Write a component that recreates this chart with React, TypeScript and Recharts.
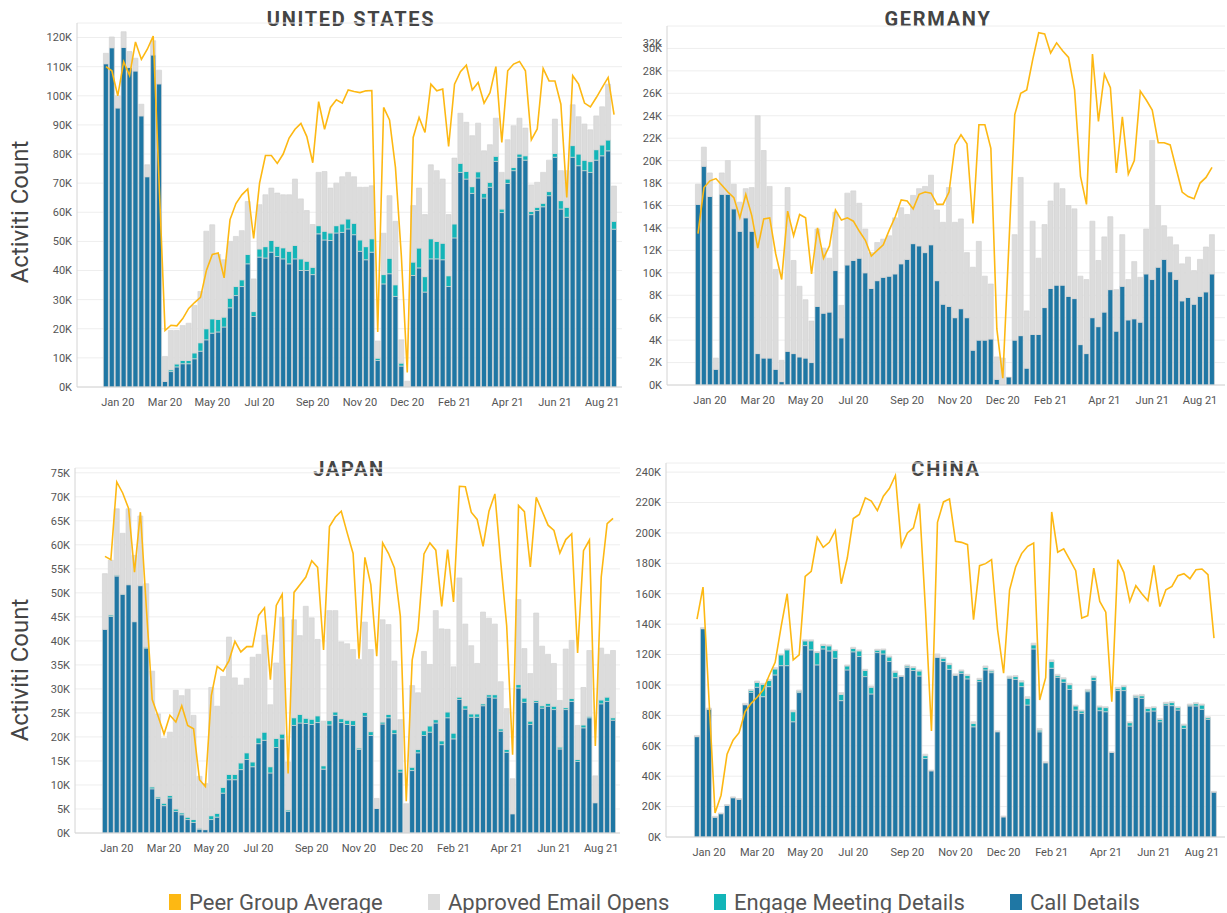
import React from 'react'
import { ComposedChart, Bar, Line, XAxis, YAxis, CartesianGrid } from 'recharts'

const COLORS = {
  call: '#1f77a4',
  engage: '#13b5b8',
  email: '#dcdcdc',
  peer: '#fdb813',
  text: '#555555',
  title: '#444444',
  grid: '#eeeeee',
  axis: '#d4d4d4',
}

// x axis: weekly buckets, labelled every ~2 months
const tickWeeks = [2, 10, 18, 26, 35, 43, 51, 59, 68, 76, 84]
const tickLabels = ['Jan 20', 'Mar 20', 'May 20', 'Jul 20', 'Sep 20', 'Nov 20', 'Dec 20', 'Feb 21', 'Apr 21', 'Jun 21', 'Aug 21']

// values in thousands
const usCall = [111, 116.5, 95.8, 116.6, 109.7, 108.5, 93.1, 72.2, 114, 104.1, 1.9, 5.3, 6.9, 8, 8, 9.7, 12.3, 16.2, 18.5, 18.9, 20.6, 27.2, 31.4, 34.5, 42.3, 24.2, 44.6, 44.3, 46.3, 44.8, 44, 42.3, 44, 40, 40, 38.6, 52.6, 50.5, 50.3, 52.9, 53.1, 54.3, 52.3, 46.6, 43.7, 46.3, 9.1, 35.4, 38.9, 31.1, 7.2, 0, 38.3, 40.9, 32.6, 44, 44, 43.7, 34.5, 51.2, 73.7, 71.4, 66.5, 71.8, 64.9, 68.6, 77.5, 59.9, 69.9, 74.3, 78.9, 77.9, 59.2, 60.6, 61.9, 65.7, 78.9, 61.1, 58.3, 78.9, 76, 74.3, 73.7, 77.9, 79.4, 81.1, 54.2]
const usEngage = [0, 0, 0, 0, 0, 0, 0, 0, 0, 0, 0, 0.6, 1, 1.1, 1.1, 2, 2.9, 3.8, 4.9, 4.3, 3.4, 3.3, 3.1, 2.3, 3.2, 1.7, 2.8, 3.9, 4, 3.5, 3.8, 4.3, 4.6, 4, 3.2, 2.5, 2.8, 3, 2.6, 2.5, 2.9, 3.4, 3.9, 3.9, 4.5, 4.6, 0.8, 3.2, 5.3, 4, 1, 0, 4.6, 6.8, 5.3, 6.9, 6, 5.7, 3.7, 4.8, 3.1, 2.6, 2.3, 2.1, 1.6, 1.7, 1.7, 1.2, 1.5, 1.1, 1.1, 1.5, 1.1, 1.1, 1.2, 1.4, 1.3, 2.9, 3.4, 4, 4, 3.6, 3.7, 3.6, 3.7, 3.7, 2.7]
const usEmail = [3.6, 3.7, 4.2, 5.4, 5.5, 4.4, 4, 4.1, 4.9, 4.7, 8.6, 13.5, 11.5, 12, 12.8, 16.3, 17.6, 33.5, 32.3, 22.3, 19.7, 19.5, 17.2, 16.9, 18.2, 11.2, 15.2, 17.8, 18, 18.3, 18.2, 19.4, 22.8, 20.6, 17.4, 14.7, 18.3, 20.5, 15.4, 14.6, 16.2, 16, 16, 18.1, 20.4, 18.2, 5.9, 14.2, 21.5, 21.8, 8, 2, 19.4, 20.6, 21.3, 25.4, 24.3, 22, 21, 22.6, 17.2, 16.9, 17.5, 16.7, 14.6, 12.9, 13.1, 12.6, 13.5, 14.3, 12.3, 9.5, 9.1, 8.6, 10.6, 10.8, 11.8, 10.3, 12.6, 14, 12.8, 12.4, 10.9, 11.6, 13.1, 19.2, 12.1]
const usPeer = [110, 108.6, 100, 111.7, 107, 118.5, 112.5, 116, 120.5, 70, 19.4, 21.2, 21, 23.5, 27, 29, 30.8, 40, 45.5, 46, 37.5, 57.5, 63, 66, 68, 51, 70, 79.5, 79.5, 76.8, 80, 85.5, 88.5, 90.5, 86, 77, 98, 88.5, 96, 98.6, 97.5, 102, 101.5, 101.1, 101.7, 101.8, 18.9, 96, 91.7, 75.4, 45, 5, 85.7, 92.6, 87.4, 104, 101.7, 102.3, 82.6, 104, 108.3, 110.5, 102, 104.6, 97.5, 101.1, 110, 84, 108.6, 110.9, 111.8, 108.6, 84.9, 88.6, 109.4, 105.1, 105.1, 97.1, 65.1, 106.9, 104, 97.5, 96.2, 99.4, 102.9, 106.3, 93.5]

const deCall = [16.1, 19.5, 16.8, 1.4, 17, 17, 15.7, 13.7, 14.9, 13.7, 2.8, 2.4, 2.4, 1.4, 0.3, 3, 2.8, 2.5, 2.4, 2, 7, 6.4, 6.5, 10.2, 4.2, 10.7, 11.1, 11.3, 10, 8.6, 9.3, 9.6, 9.7, 9.9, 10.8, 11.2, 12.6, 12.4, 11.8, 12.5, 9.3, 7.2, 7, 6, 6.8, 6, 3.1, 4, 4, 4.1, 0.5, 0, 0.7, 4, 4.4, 1.5, 4.5, 4.5, 6.9, 8.6, 8.9, 8.9, 7.9, 7.7, 3.6, 2.8, 6, 5.2, 6.5, 8.5, 4.8, 8.8, 5.8, 5.9, 5.6, 9.9, 9.4, 10.5, 11.2, 10.1, 9.4, 7.5, 7.8, 7.2, 7.9, 8.3, 9.9]
const deEmail = [1.8, 1.7, 2.1, 1, 1.9, 3, 2.2, 2.6, 2.6, 3.9, 21.2, 18.5, 15.3, 8.9, 1.9, 14.6, 8.3, 6.3, 5.2, 3.7, 6.9, 5.8, 4.8, 5.2, 2.9, 6.4, 6.2, 4.9, 3.9, 3.2, 3.4, 3.4, 3.6, 5, 5, 4, 4.3, 5.1, 5.9, 6.2, 6.3, 7.3, 10.6, 8.5, 8, 5.8, 7.4, 8.8, 5.7, 4.9, 2, 2.4, 0, 9.4, 14.1, 5.1, 10.1, 6.8, 7.4, 7.8, 9.1, 8.6, 8.1, 8, 6.1, 6.6, 8.6, 5.9, 6.7, 6.5, 3.7, 4.6, 3.6, 5.1, 4, 4, 12.4, 5.5, 3, 3.1, 3.1, 3.3, 3.6, 3, 3.3, 4, 3.5]
const dePeer = [13.5, 17.6, 18.2, 18.4, 17.8, 17.2, 16.7, 14.9, 17, 15.1, 12.2, 14.8, 14.9, 11.7, 9.4, 15.5, 13.3, 15.2, 14.9, 9.9, 14, 11.3, 12.4, 15.6, 14.7, 14.9, 14.6, 13.7, 12.9, 11.5, 12, 12.5, 13.8, 15, 16.5, 16.4, 15.7, 17, 17.2, 17.1, 16.1, 16.1, 17.2, 21.4, 22.3, 21.5, 14.4, 23.2, 23.2, 21.1, 5, 0.6, 12.3, 24.1, 26, 26.3, 29, 31.4, 31.3, 29.6, 30.5, 29.8, 29.2, 26.3, 18.6, 16.1, 29.5, 23.5, 27.7, 26.5, 18.9, 23.9, 18.8, 20, 26.2, 25.4, 24.5, 21.6, 21.6, 21.4, 19.3, 17.2, 16.8, 16.6, 18, 18.5, 19.4]

const jpCall = [42.4, 45.1, 53.5, 49.7, 51.7, 44, 51.5, 38.5, 9.2, 7.2, 5.7, 7.3, 4.5, 3.8, 2.8, 2.2, 0.8, 0.7, 2.8, 3.3, 8.3, 11.1, 11.1, 13.2, 15.3, 13.8, 18.6, 19.3, 12.5, 17.8, 19.6, 4.5, 22.4, 22.9, 22.8, 22.6, 23, 13.3, 22.5, 24.5, 23, 22.6, 22.4, 17.4, 24.3, 20.3, 5.1, 22.7, 24, 20.7, 12.7, 0, 13, 16.7, 20.3, 21, 22.9, 18.4, 24, 19.6, 27.8, 25.8, 24.1, 24.1, 26.5, 28.3, 28.1, 21.2, 16.8, 4, 30.2, 27.2, 22.6, 27.2, 26, 26.4, 25.7, 17.5, 25.7, 27.4, 14.9, 21.9, 24, 6.3, 26.9, 27.4, 23.5]
const jpEngage = [0, 0.3, 0.2, 0.1, 0.1, 0.1, 0.1, 0.2, 0.4, 0.3, 0.5, 0.5, 0.5, 0.4, 0.5, 0.6, 0.2, 0, 0.8, 0.8, 1.2, 1.1, 1.1, 1.4, 1.4, 1, 1.2, 1.7, 1.3, 1.9, 1, 0.3, 1.6, 1.8, 1.1, 1.1, 1.4, 0.7, 0.9, 0.7, 0.8, 0.9, 1, 0.3, 0.8, 0.8, 0, 0.4, 0.7, 0.8, 0.6, 0, 0.7, 0.7, 1, 1.3, 0.7, 0.8, 1.2, 1.2, 0.5, 0.7, 0.7, 0.7, 0.4, 0.5, 0.7, 0.5, 0.6, 0, 0.7, 0.9, 0.7, 0.4, 0.5, 0.6, 0.7, 0.4, 0.4, 0.6, 0.4, 0.6, 0.3, 0, 0.8, 0.9, 0.5]
const jpEmail = [11.6, 11.4, 13.8, 12.6, 15.7, 13.7, 14.4, 13.2, 24.1, 17.3, 13.5, 13.2, 24.7, 24.4, 26.6, 21.7, 10.8, 9.6, 26.7, 22.3, 23.1, 28.6, 20.1, 16.2, 15.5, 21.8, 17.4, 20.2, 12.9, 15.7, 24.3, 10, 20.4, 16.4, 23.3, 21.1, 15.9, 9.3, 22.9, 21.1, 16, 15.9, 14.8, 18.4, 18.8, 17.1, 2.1, 21.3, 18.7, 14.3, 10.3, 6.1, 17, 11.8, 16.5, 12.8, 22.7, 23.3, 17.2, 13.8, 24.8, 17, 14.2, 10.5, 19.1, 15.9, 14.7, 9.8, 8.5, 7.3, 17.7, 10.3, 9.9, 18.2, 12.4, 10.2, 8.9, 9.7, 12.2, 12.1, 7.1, 7.8, 13.7, 5.6, 10.8, 8.9, 14]
const jpPeer = [57.6, 56.9, 73.1, 70.8, 67.6, 54.3, 66.8, 47, 27.8, 24.3, 20.6, 24.5, 23.1, 26.5, 22.4, 21.7, 11.1, 9.7, 28.6, 34.7, 33.7, 35.9, 39.9, 37.7, 38.8, 38.8, 45.3, 46.9, 31.9, 47.4, 49.7, 12.4, 50.1, 51.7, 53.3, 56.7, 55.3, 38.1, 63.8, 65.8, 67, 62.5, 58.2, 36.3, 57.4, 51.7, 36.8, 60.4, 58.2, 55.2, 45.1, 6.6, 36, 42.4, 58.1, 60.4, 58.9, 47.2, 59, 48.1, 72.2, 72.1, 66.8, 65.3, 59.7, 67, 70.6, 56.3, 43.1, 16.3, 68.2, 66.9, 55.4, 69.9, 67, 64.1, 63, 58.3, 61.1, 62.3, 37.5, 58.8, 61, 18.1, 53.3, 64.4, 65.5]

const cnCall = [66, 137, 84, 13, 15.3, 20.8, 25.8, 24.8, 87, 95.2, 98.5, 92.3, 98.9, 106.6, 112.7, 112.7, 75.8, 95, 125.9, 123.1, 113.2, 123.7, 122.4, 117.6, 89.7, 109.9, 121.8, 118.7, 105.5, 94.1, 121.3, 120.4, 115.4, 104.8, 105.7, 111.6, 109.5, 105.9, 51.6, 43.5, 118.2, 115.4, 110.3, 106.4, 107.7, 104, 72.5, 102.2, 109.9, 108.1, 69.2, 13.2, 104.4, 103.7, 98.9, 86.8, 123.7, 69.2, 48.8, 111, 105.1, 101.8, 97.1, 83.5, 81.3, 95.6, 102.9, 83.1, 82.4, 55.6, 96.3, 96.3, 73, 91.9, 91.2, 82.4, 82.9, 75.8, 86.8, 86.4, 83.5, 71.4, 86.2, 86.2, 84, 77.4, 29.5]
const cnEngage = [0, 0, 0, 0, 0, 0, 0, 0, 0, 1.2, 3.2, 8.1, 4, 3.9, 7.1, 10.4, 6.6, 0.9, 3.1, 5.9, 8.1, 2.3, 3.3, 5, 4.1, 2.6, 2.2, 3.7, 4, 4.4, 1.6, 2.7, 3, 3.6, 0, 0.9, 1.9, 3.3, 1.9, 0, 0, 2.2, 3.1, 0.2, 1.5, 2.2, 2.2, 1.5, 1.7, 1.1, 0, 0, 0.7, 1.8, 3.1, 4.4, 2.7, 1.1, 0, 4.4, 1.1, 2.2, 3.1, 2.7, 1.6, 0.9, 2.2, 2.4, 2.7, 0, 1.3, 2.6, 2.2, 0.8, 1.7, 2.2, 2.2, 1.6, 1.1, 2, 1.6, 2.2, 0.6, 1.5, 2.8, 1.1, 0]
const cnEmail = [0.8, 0.8, 0.8, 0.6, 0.5, 0.5, 0.6, 0.5, 0.9, 0.7, 0.9, 0.7, 0.8, 0.9, 0.6, 0.6, 1.1, 0.8, 0.7, 0.7, 0.7, 0.8, 0.7, 0.5, 1.2, 0.7, 0.8, 0.7, 0.8, 0.8, 0.6, 0.6, 0.7, 0.8, 0.5, 0.7, 0.7, 0.7, 1, 0.5, 2.2, 0.6, 0.9, 0.7, 0.7, 0.8, 1.1, 0.7, 0.9, 0.7, 0.7, 0.6, 0.8, 0.7, 0.9, 1.1, 1.1, 1.1, 0.7, 1.1, 0.8, 0.8, 0.9, 0.6, 0.6, 0.6, 0.8, 0.7, 0.6, 0.4, 0.9, 0.7, 0.6, 0.7, 0.9, 0.7, 0.6, 0.6, 0.7, 0.6, 0.6, 0.7, 0.7, 0.7, 0.7, 0.6, 0.5]
const cnPeer = [143.3, 164.4, 90, 15.8, 27.5, 54.5, 63.7, 68.6, 82.4, 87.9, 91.9, 96.7, 106.2, 114.9, 138.5, 160, 116.5, 119.8, 171.4, 174.7, 197.1, 190.5, 193.8, 201.5, 166.6, 183.5, 209.5, 212.1, 223.1, 220.9, 214.7, 224.2, 229.2, 237.8, 191.2, 200, 203.3, 219.3, 150, 69.7, 207, 220.4, 222.4, 194.5, 193.8, 192.3, 142.9, 178.5, 179.8, 182.4, 136.3, 107.7, 162.6, 177.6, 186.4, 191.2, 193.4, 90.1, 104.8, 213.8, 187.3, 189.5, 182.4, 175.2, 144, 145.5, 176.9, 154.9, 147.9, 89, 182.4, 174.1, 154.9, 165.3, 160, 155.4, 178.7, 151.6, 162.6, 164.8, 171.9, 173.2, 169.9, 175.8, 176.3, 172.5, 130.8]

const usTicks = [0, 10, 20, 30, 40, 50, 60, 70, 80, 90, 100, 110, 120]
const deTicks = [0, 2, 4, 6, 8, 10, 12, 14, 16, 18, 20, 22, 24, 26, 28, 30]
const jpTicks = [0, 5, 10, 15, 20, 25, 30, 35, 40, 45, 50, 55, 60, 65, 70, 75]
const cnTicks = [0, 20, 40, 60, 80, 100, 120, 140, 160, 180, 200, 220, 240]

const FONT = 'Roboto, "Noto Sans", sans-serif'
const tickStyle = { fill: COLORS.text, fontSize: 11, fontFamily: FONT }

function buildRows(call: number[], email: number[], peer: number[], engage?: number[]) {
  return call.map((c, i) => ({
    week: i,
    call: c,
    engage: engage ? engage[i] : undefined,
    email: email[i],
    peer: peer[i],
  }))
}

// the Germany axis draws its "32K" label squeezed on top of "30K"
function GermanyTick(props: any) {
  const { x, y, payload } = props
  return (
    <g>
      {payload.value === 30 && (
        <text x={x} y={y - 5} dy="0.355em" textAnchor="end" {...tickStyle}>
          32K
        </text>
      )}
      <text x={x} y={y} dy="0.355em" textAnchor="end" {...tickStyle}>
        {`${payload.value}K`}
      </text>
    </g>
  )
}

interface PanelProps {
  title: string
  left: number
  top: number
  width: number
  height: number
  marginTop: number
  axisWidth: number
  padLeft: number
  padRight: number
  domainMax: number
  yTicks: number[]
  rows: ReturnType<typeof buildRows>
  hasEngage: boolean
  customTick?: boolean
  titleX: number
  titleY: number
}

function Panel(p: PanelProps) {
  return (
    <>
      <div
        style={{
          position: 'absolute',
          left: p.titleX,
          top: p.titleY,
          transform: 'translate(-50%, -50%)',
          fontFamily: FONT,
          fontWeight: 700,
          fontSize: 20,
          letterSpacing: 1.7,
          color: COLORS.title,
          whiteSpace: 'nowrap',
        }}
      >
        {p.title}
      </div>
      <div style={{ position: 'absolute', left: p.left, top: p.top }}>
        <ComposedChart
          width={p.width}
          height={p.height}
          data={p.rows}
          margin={{ top: p.marginTop, right: 2, bottom: 0, left: 0 }}
          barCategoryGap={0.4}
        >
          <CartesianGrid vertical={false} stroke={COLORS.grid} />
          <XAxis
            dataKey="week"
            type="category"
            ticks={tickWeeks}
            interval={0}
            tickFormatter={(w: number) => tickLabels[tickWeeks.indexOf(w)] ?? ''}
            tick={tickStyle}
            tickLine={false}
            tickSize={6}
            tickMargin={5}
            height={33}
            axisLine={{ stroke: COLORS.axis }}
            padding={{ left: p.padLeft, right: p.padRight }}
          />
          <YAxis
            width={p.axisWidth}
            domain={[0, p.domainMax]}
            ticks={p.yTicks}
            interval={0}
            tickFormatter={(v: number) => `${v}K`}
            tick={p.customTick ? <GermanyTick /> : tickStyle}
            tickLine={false}
            tickSize={3}
            tickMargin={2}
            axisLine={{ stroke: COLORS.axis }}
            allowDataOverflow
          />
          <Bar dataKey="call" stackId="a" fill={COLORS.call} stroke="#d4d4d4" strokeWidth={0.7} isAnimationActive={false} />
          {p.hasEngage && (
            <Bar dataKey="engage" stackId="a" fill={COLORS.engage} stroke="#d4d4d4" strokeWidth={0.7} isAnimationActive={false} />
          )}
          <Bar dataKey="email" stackId="a" fill={COLORS.email} stroke="#d4d4d4" strokeWidth={0.7} isAnimationActive={false} />
          <Line
            dataKey="peer"
            type="linear"
            stroke={COLORS.peer}
            strokeWidth={1.6}
            dot={false}
            activeDot={false}
            isAnimationActive={false}
          />
        </ComposedChart>
      </div>
    </>
  )
}

const legendItems = [
  { label: 'Peer Group Average', color: COLORS.peer, x: 169 },
  { label: 'Approved Email Opens', color: COLORS.email, x: 428 },
  { label: 'Engage Meeting Details', color: COLORS.engage, x: 714 },
  { label: 'Call Details', color: COLORS.call, x: 1010 },
]

function YLabel({ y }: { y: number }) {
  return (
    <div
      style={{
        position: 'absolute',
        left: 20,
        top: y,
        transform: 'translate(-50%, -50%) rotate(-90deg)',
        fontFamily: FONT,
        fontSize: 24,
        color: COLORS.title,
        whiteSpace: 'nowrap',
      }}
    >
      Activiti Count
    </div>
  )
}

export default function App() {
  return (
    <div style={{ position: 'absolute', left: 0, top: 0, width: 1227, height: 913, background: '#fff', overflow: 'hidden' }}>
      <YLabel y={212} />
      <YLabel y={670} />
      <Panel
        title="UNITED STATES"
        titleX={351}
        titleY={19}
        left={0}
        top={0}
        width={624}
        height={420}
        marginTop={23}
        axisWidth={77}
        padLeft={26}
        padRight={5}
        domainMax={125}
        yTicks={usTicks}
        rows={buildRows(usCall, usEmail, usPeer, usEngage)}
        hasEngage
      />
      <Panel
        title="GERMANY"
        titleX={938}
        titleY={19}
        left={590}
        top={0}
        width={637}
        height={418}
        marginTop={26}
        axisWidth={77}
        padLeft={28}
        padRight={10}
        domainMax={32}
        yTicks={deTicks}
        rows={buildRows(deCall, deEmail, dePeer)}
        hasEngage={false}
        customTick
      />
      <Panel
        title="JAPAN"
        titleX={349}
        titleY={469}
        left={0}
        top={450}
        width={622}
        height={416}
        marginTop={18}
        axisWidth={75}
        padLeft={27}
        padRight={4}
        domainMax={76}
        yTicks={jpTicks}
        rows={buildRows(jpCall, jpEmail, jpPeer, jpEngage)}
        hasEngage
      />
      <Panel
        title="CHINA"
        titleX={946}
        titleY={469}
        left={590}
        top={450}
        width={637}
        height={420}
        marginTop={13}
        axisWidth={76}
        padLeft={28}
        padRight={8}
        domainMax={246}
        yTicks={cnTicks}
        rows={buildRows(cnCall, cnEmail, cnPeer, cnEngage)}
        hasEngage
      />
      {legendItems.map((it) => (
        <div
          key={it.label}
          style={{
            position: 'absolute',
            left: it.x,
            top: 889,
            height: 26,
            display: 'flex',
            alignItems: 'center',
            fontFamily: FONT,
            fontSize: 22,
            color: COLORS.text,
            whiteSpace: 'nowrap',
          }}
        >
          <span style={{ display: 'inline-block', width: 12, height: 16, background: it.color, marginRight: 8 }} />
          {it.label}
        </div>
      ))}
    </div>
  )
}
